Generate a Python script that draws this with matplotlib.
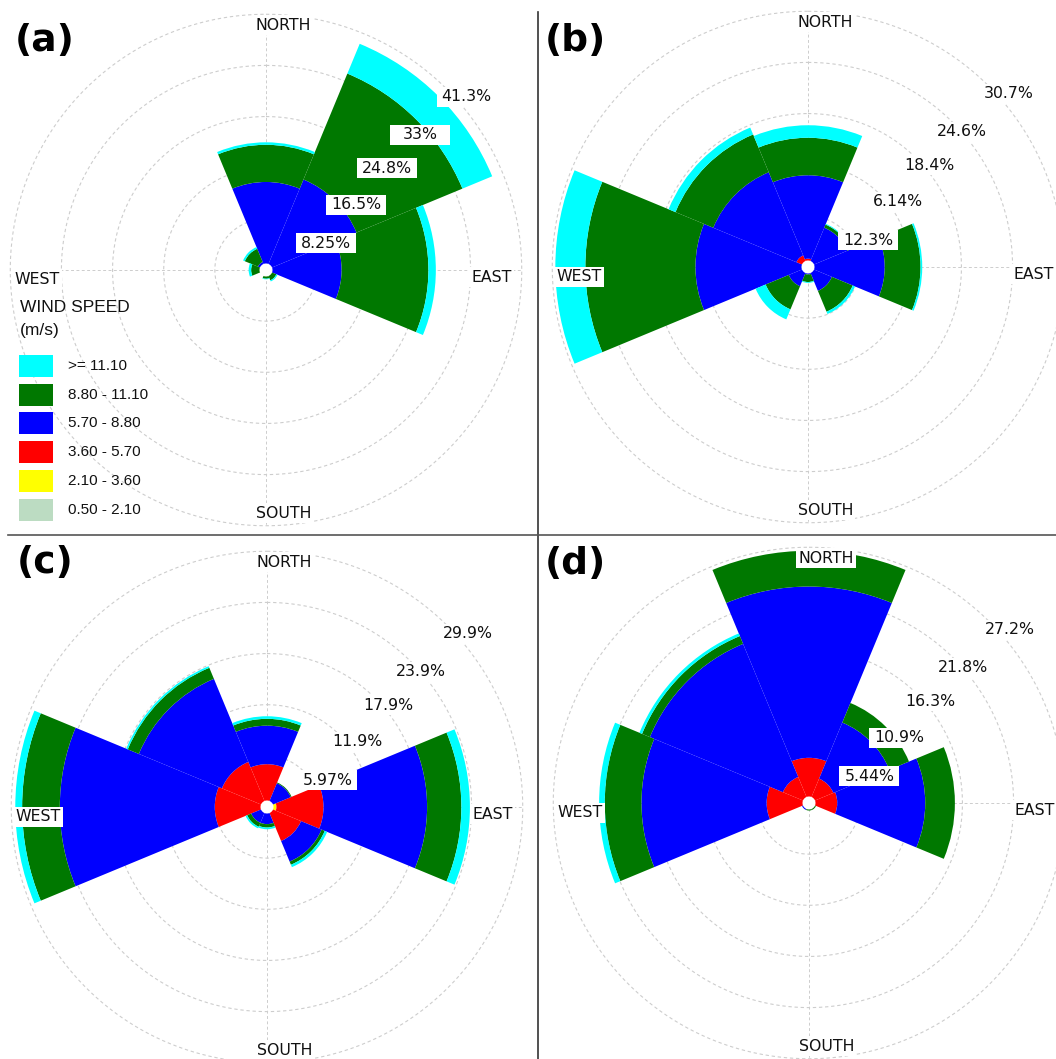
import numpy as np
import matplotlib
matplotlib.use("Agg")
import matplotlib.pyplot as plt
from matplotlib.patches import Rectangle
from matplotlib.lines import Line2D

W_PX, H_PX, DPI = 1056, 1059, 100

# ---- data ---------------------------------------------------------------
sector_angles = [0, 45, 90, 135, 180, 225, 270, 315]   # N, NE, E, SE, S, SW, W, NW

# speed classes, lowest first (stacked from the centre outwards)
class_labels = ["0.50 - 2.10", "2.10 - 3.60", "3.60 - 5.70",
                "5.70 - 8.80", "8.80 - 11.10", ">= 11.10"]
class_colors = ["#bcdcc2", "#ffff00", "#ff0000", "#0000ff", "#007800", "#00ffff"]

# frequency (%) per sector for each speed class (rows follow class_labels)
freq_a = [
    [0, 0, 0, 0, 0, 0, 0, 0],
    [0, 0, 0, 0, 0, 0, 0, 0],
    [0, 0, 0, 0, 0, 0, 0, 0],
    [14.2, 15.8, 12.2, 0.6, 0.5, 0.3, 0.9, 1.4],
    [6.0, 18.5, 14.0, 1.2, 0.9, 0.5, 1.5, 2.3],
    [0.4, 5.2, 1.2, 0.2, 0.1, 0.1, 0.4, 0.3],
]
freq_b = [
    [0, 0, 0, 0, 0, 0, 0, 0],
    [0, 0, 0, 0, 0, 0, 0, 0],
    [1.0, 0.5, 0.3, 0.2, 0.1, 0.2, 0.3, 1.5],
    [10.0, 4.6, 8.9, 2.9, 0.8, 2.3, 13.2, 10.8],
    [4.5, 0.4, 4.3, 2.7, 0.9, 3.0, 13.2, 4.9],
    [1.5, 0.1, 0.2, 0.3, 0.1, 1.3, 3.6, 0.9],
]
freq_c = [
    [0, 0, 0, 0, 0, 0, 0, 0],
    [0, 0, 1.1, 0, 0, 0, 0, 0],
    [5.0, 0.3, 5.5, 4.3, 0.6, 0.6, 6.1, 5.7],
    [4.5, 2.7, 12.1, 2.6, 1.4, 1.4, 18.1, 10.5],
    [0.8, 0.1, 4.0, 0.4, 0.4, 0.5, 4.4, 1.4],
    [0.3, 0.0, 1.0, 0.3, 0.2, 0.2, 0.8, 0.2],
]
freq_d = [
    [0, 0, 0, 0, 0, 0, 0, 0],
    [0, 0, 0, 0, 0, 0, 0, 0],
    [4.8, 2.8, 3.0, 0, 0, 0, 4.5, 3.0],
    [18.2, 6.45, 9.35, 0.3, 0.4, 0.8, 13.3, 15.3],
    [3.8, 2.25, 3.15, 0.5, 0.4, 0.0, 3.9, 0.9],
    [0, 0, 0, 0, 0, 0, 0.6, 0.3],
]

# ring labels, innermost ring first
rings_a = ["8.25%", "16.5%", "24.8%", "33%", "41.3%"]
rings_b = ["12.3%", "6.14%", "18.4%", "24.6%", "30.7%"]
rings_c = ["5.97%", "11.9%", "17.9%", "23.9%", "29.9%"]
rings_d = ["5.44%", "10.9%", "16.3%", "21.8%", "27.2%"]
max_ring = [41.3, 30.7, 29.9, 27.2]

panel_letters = ["(a)", "(b)", "(c)", "(d)"]

# ---- layout -------------------------------------------------------------
centers_px = [(266, 270), (808, 267), (267, 807), (809, 803)]
R_PX = 256
calm_px = 6.5
letter_px = [(15, 41), (545, 41), (17, 563), (545, 564)]

ring_label_ang = [66, 54, 50, 48.7, 49.2]
ring_label_fac = [1.29, 1.085, 1.03, 1.0, 1.035]

dir_labels = [("NORTH", 4.0, 0.959), ("EAST", 91.8, 0.883),
              ("SOUTH", 175.9, 0.952), ("WEST", 267.5, 0.895)]

GRID = "#cdcdcd"
sans = "DejaVu Sans"
arial = "Liberation Sans"

fig = plt.figure(figsize=(W_PX / DPI, H_PX / DPI), dpi=DPI)
fig.patch.set_facecolor("white")


def to_fig(ax, theta_deg, r):
    disp = ax.transData.transform((np.deg2rad(theta_deg), r))
    return fig.transFigure.inverted().transform(disp)


panels = [(freq_a, rings_a), (freq_b, rings_b), (freq_c, rings_c), (freq_d, rings_d)]
width = np.deg2rad(45)
theta = np.deg2rad(sector_angles)

for k, ((freq, ring_text), (cx, cy)) in enumerate(zip(panels, centers_px)):
    rmax = max_ring[k]
    ax = fig.add_axes([(cx - R_PX) / W_PX, (H_PX - cy - R_PX) / H_PX,
                       2 * R_PX / W_PX, 2 * R_PX / H_PX], projection="polar")
    ax.set_theta_zero_location("N")
    ax.set_theta_direction(-1)
    ax.set_ylim(0, rmax)
    ax.grid(False)
    ax.set_xticks([])
    ax.set_yticks([])
    ax.spines["polar"].set_visible(False)
    ax.patch.set_alpha(0)

    # dashed rings and compass spokes
    ring_vals = np.linspace(rmax / 5, rmax, 5)
    tt = np.linspace(0, 2 * np.pi, 400)
    for rv in ring_vals:
        ax.plot(tt, np.full_like(tt, rv * 0.999), color=GRID, lw=0.8,
                ls=(0, (3, 2.5)), zorder=0.5, clip_on=False)
    for a in (0, 90, 180, 270):
        ax.plot([np.deg2rad(a)] * 2, [0, rmax], color=GRID, lw=0.7,
                ls=(0, (3, 2.5)), zorder=0.5)

    # stacked sector bars
    bottom = np.zeros(len(sector_angles))
    for row, col in zip(freq, class_colors):
        vals = np.array(row, dtype=float)
        ax.bar(theta, vals, width=width, bottom=bottom, color=col,
               linewidth=0, zorder=2)
        bottom += vals

    # calm circle
    ax.bar(0, calm_px / R_PX * rmax, width=2 * np.pi, bottom=0,
           color="white", linewidth=0, zorder=4)

    # ring labels with fixed-size white boxes
    for i, (txt, rv) in enumerate(zip(ring_text, ring_vals)):
        x, y = to_fig(ax, ring_label_ang[i], rv * ring_label_fac[i])
        bw, bh = 60 / W_PX, 20 / H_PX
        fig.add_artist(Rectangle((x - bw / 2, y - bh / 2), bw, bh,
                                 transform=fig.transFigure, facecolor="white",
                                 edgecolor="none", zorder=5))
        fig.text(x, y, txt, ha="center", va="center", fontsize=11.3,
                 family=sans, color="#111111", zorder=6)

    # compass labels
    for name, ang, fac in dir_labels:
        x, y = to_fig(ax, ang, rmax * fac)
        fig.text(x, y, name, ha="center", va="center", fontsize=11.3,
                 family=sans, color="#111111", zorder=6,
                 bbox=dict(boxstyle="square,pad=0.15", facecolor="white",
                           edgecolor="none"))

    lx, ly = letter_px[k]
    fig.text(lx / W_PX, 1 - ly / H_PX, panel_letters[k], ha="left", va="center",
             fontsize=27, fontweight="bold", family=sans, color="black", zorder=6)

# legend of panel (a)
fig.text(20 / W_PX, 1 - 307 / H_PX, "WIND SPEED", ha="left", va="center",
         fontsize=12.5, family=arial, color="#111111", zorder=6)
fig.text(20 / W_PX, 1 - 330 / H_PX, "(m/s)", ha="left", va="center",
         fontsize=12.5, family=arial, color="#111111", zorder=6)
for i, (lab, col) in enumerate(zip(class_labels[::-1], class_colors[::-1])):
    yc = 366 + 28.7 * i
    fig.add_artist(Rectangle((19 / W_PX, 1 - (yc + 11) / H_PX), 34 / W_PX, 22 / H_PX,
                             transform=fig.transFigure, facecolor=col,
                             edgecolor="none", zorder=5))
    fig.text(68 / W_PX, 1 - yc / H_PX, lab, ha="left", va="center",
             fontsize=11, family=arial, color="#111111", zorder=6)

# panel separators
fig.add_artist(Line2D([537.5 / W_PX] * 2, [1 - 12 / H_PX, 0],
                      transform=fig.transFigure, color="#333333", lw=1.2))
fig.add_artist(Line2D([8 / W_PX, 1], [1 - 535 / H_PX] * 2,
                      transform=fig.transFigure, color="#555555", lw=1.2))

fig.savefig("out.png", dpi=DPI, facecolor="white")
